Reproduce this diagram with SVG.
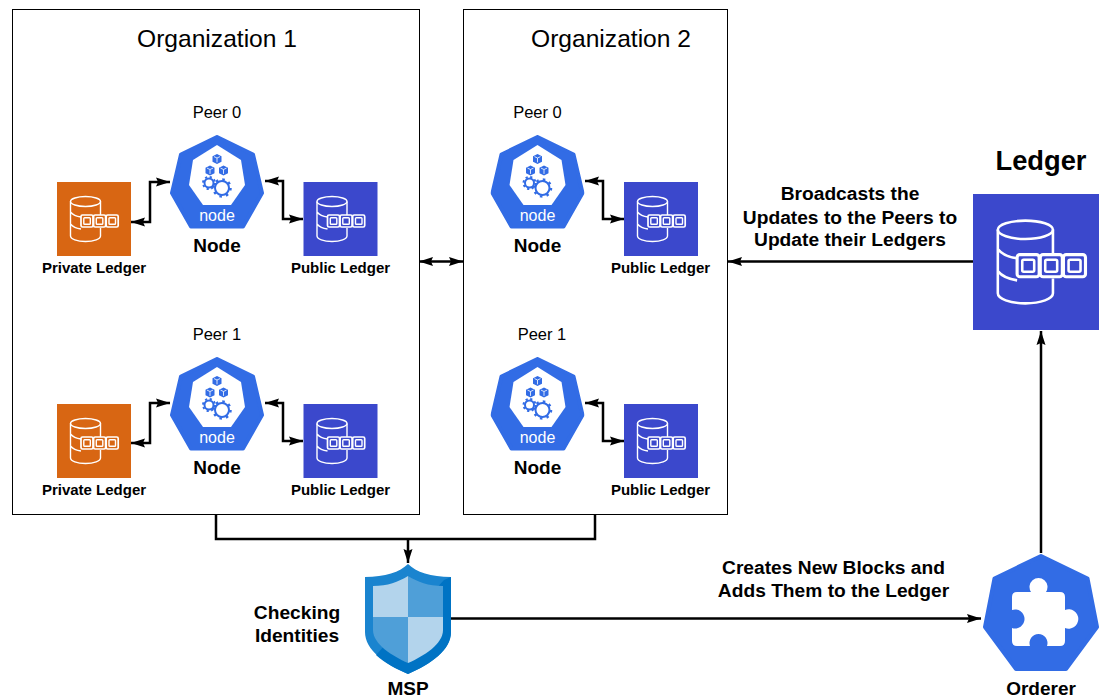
<svg xmlns="http://www.w3.org/2000/svg" width="1099" height="697" viewBox="0 0 1099 697">
<style>
text{font-family:"Liberation Sans",Arial,sans-serif;fill:#000;text-anchor:middle}
.org{fill:#fff;stroke:#000;stroke-width:1}
.title{font-size:24.6px}
.peer{font-size:16.500px}
.nl{font-size:19px;font-weight:700}
.ll{font-size:15px;font-weight:700}
.big{font-size:19.200px;font-weight:700}
.conn{fill:none;stroke:#000;stroke-width:2.500}
.ln{fill:none;stroke:#fff;stroke-width:1.400}
.ch{fill:none;stroke:#fff;stroke-width:1.700}
.nd{font-size:16px;fill:#fff}
</style>
<defs>
<marker id="ah" markerUnits="userSpaceOnUse" markerWidth="16" markerHeight="12" refX="14" refY="6" orient="auto-start-reverse"><path d="M0 1.500L14 6L0 10.500L2 6Z" fill="#000"/></marker>
<symbol id="ledger" viewBox="0 0 74 74" width="74" height="74" overflow="visible">
<ellipse class="ln" cx="28.500" cy="19.500" rx="15" ry="5"/>
<path class="ln" d="M13.500 19.500V54C13.500 57 20 59.500 28.500 59.500S43.500 57 43.500 54V46M43.500 19.500V33M13.500 30C16 33 20 34.500 24 35M13.500 42C16 45 20 46.500 24 47"/>
<rect class="ch" x="24" y="33" width="12" height="12" rx="1.500"/>
<rect class="ch" x="36.600" y="33" width="12" height="12" rx="1.500"/>
<rect class="ch" x="49.200" y="33" width="12" height="12" rx="1.500"/>
<rect class="ln" x="26.800" y="35.800" width="6.500" height="6.500" rx=".8"/>
<rect class="ln" x="39.300" y="35.800" width="6.500" height="6.500" rx=".8"/>
<rect class="ln" x="52" y="35.800" width="6.500" height="6.500" rx=".8"/>
</symbol>
<g id="cube"><path d="M0-5L4.500-2.800V2.800L0 5L-4.500 2.800V-2.800Z" fill="#326ce5"/><path d="M-3-2.400L0-1L3-2.400M0-1V3.400" fill="none" stroke="#fff" stroke-width=".8"/></g>
<symbol id="hep" viewBox="170 135 94 94" width="94" height="94">
<path d="M217 137L253 154.500L262 193L243 226.500H191L172 193L181 154.500Z" fill="#326ce5" stroke="#326ce5" stroke-width="4" stroke-linejoin="round"/>
<path d="M217 145L241 160L245 185L231 205H203L189 185L193 160Z" fill="#fff"/>
<use href="#cube" x="217" y="159"/><use href="#cube" x="210" y="170.500"/><use href="#cube" x="223.500" y="170.500"/>
<circle cx="209" cy="183" r="4.500" fill="#fff" stroke="#326ce5" stroke-width="2"/>
<circle cx="209" cy="183" r="6" fill="none" stroke="#326ce5" stroke-width="2" stroke-dasharray="2.200 2.510"/>
<circle cx="222" cy="188" r="7" fill="#fff" stroke="#326ce5" stroke-width="2"/>
<circle cx="222" cy="188" r="8.500" fill="none" stroke="#326ce5" stroke-width="2.500" stroke-dasharray="2.500 4.177"/>
</symbol>
</defs>
<rect width="1099" height="697" fill="#fff"/>
<g id="org1"><rect class="org" x="12.500" y="9.500" width="407" height="505"/><text class="title" x="217" y="47">Organization 1</text></g>
<g id="org2"><rect class="org" x="463.500" y="9.500" width="264" height="505"/><text class="title" x="611" y="47">Organization 2</text></g>

<g id="connectors">
<path class="conn" marker-start="url(#ah)" marker-end="url(#ah)" d="M131 222H150V182H170"/>
<path class="conn" marker-start="url(#ah)" marker-end="url(#ah)" d="M265 181H283V219H303"/>
<path class="conn" marker-start="url(#ah)" marker-end="url(#ah)" d="M131 443H150V403H170"/>
<path class="conn" marker-start="url(#ah)" marker-end="url(#ah)" d="M265 403H283V441H303"/>
<path class="conn" marker-start="url(#ah)" marker-end="url(#ah)" d="M585 181H603V219H624"/>
<path class="conn" marker-start="url(#ah)" marker-end="url(#ah)" d="M585 403H603V441H624"/>
<path class="conn" marker-start="url(#ah)" marker-end="url(#ah)" d="M419 261.500H463"/>
<path class="conn" marker-end="url(#ah)" d="M973 261.500H728"/>
<path class="conn" marker-end="url(#ah)" d="M1041 553V331"/>
<path class="conn" d="M216 515V539H595V515"/>
<path class="conn" marker-end="url(#ah)" d="M408 539V563"/>
<path class="conn" marker-end="url(#ah)" d="M451 618.500H981"/>
</g>

<g id="peer0-org1"><text class="peer" x="217" y="118">Peer 0</text><use href="#hep" x="170" y="135"/><text class="nd" x="217" y="221">node</text><text class="nl" x="217" y="252">Node</text></g>
<g id="peer1-org1"><text class="peer" x="217" y="339.500">Peer 1</text><use href="#hep" x="170" y="357"/><text class="nd" x="217" y="443">node</text><text class="nl" x="217" y="474">Node</text></g>
<g id="peer0-org2"><text class="peer" x="537.500" y="118">Peer 0</text><use href="#hep" x="490.500" y="135"/><text class="nd" x="537.500" y="221">node</text><text class="nl" x="537.500" y="252">Node</text></g>
<g id="peer1-org2"><text class="peer" x="542" y="339.500">Peer 1</text><use href="#hep" x="490.500" y="357"/><text class="nd" x="537.500" y="443">node</text><text class="nl" x="537.500" y="474">Node</text></g>

<g id="private0"><rect x="57" y="182" width="74" height="74" fill="#d86613"/><use href="#ledger" x="57" y="182"/><text class="ll" x="94" y="273">Private Ledger</text></g>
<g id="private1"><rect x="57" y="404" width="74" height="74" fill="#d86613"/><use href="#ledger" x="57" y="404"/><text class="ll" x="94" y="495">Private Ledger</text></g>
<g id="public0-org1"><rect x="303.500" y="182" width="74" height="74" fill="#3b48cc"/><use href="#ledger" x="303.500" y="182"/><text class="ll" x="340.500" y="273">Public Ledger</text></g>
<g id="public1-org1"><rect x="303.500" y="404" width="74" height="74" fill="#3b48cc"/><use href="#ledger" x="303.500" y="404"/><text class="ll" x="340.500" y="495">Public Ledger</text></g>
<g id="public0-org2"><rect x="624" y="182" width="74" height="74" fill="#3b48cc"/><use href="#ledger" x="624" y="182"/><text class="ll" x="660.500" y="273">Public Ledger</text></g>
<g id="public1-org2"><rect x="624" y="404" width="74" height="74" fill="#3b48cc"/><use href="#ledger" x="624" y="404"/><text class="ll" x="660.500" y="495">Public Ledger</text></g>

<g id="ledger-main"><text x="1041" y="170" font-size="27.300" font-weight="700">Ledger</text><rect x="973" y="194" width="136" height="136" fill="#3b48cc"/><use href="#ledger" transform="translate(973 194) scale(1.838)"/></g>

<g id="msp">
<path d="M408 564C400 572 385 577 365 577V632C365 650 385 664 408 674C431 664 451 650 451 632V577C431 577 416 572 408 564Z" fill="#1a84cf"/>
<path d="M451 577V632C451 650 431 664 408 674C396 669 385 663 376 655L444 580Z" fill="#0073c4"/>
<path d="M408 576C398 582 388 586 373 586V617H408Z" fill="#b3d4ec"/>
<path d="M408 576C418 582 428 586 443 586V617H408Z" fill="#4f9fd8"/>
<path d="M373 617H408V663C392 656 373 644 373 630Z" fill="#4f9fd8"/>
<path d="M443 617H408V663C424 656 443 644 443 630Z" fill="#b3d4ec"/>
<text x="408" y="695" font-size="19" font-weight="700">MSP</text>
</g>

<g id="orderer">
<path d="M1041 556L1087.500 578.500L1097 627L1066 669H1016L985 627L994.500 578.500Z" fill="#326ce5" stroke="#326ce5" stroke-width="4" stroke-linejoin="round"/>
<path d="M1017 592H1031A9 9 0 1 1 1046 592H1060Q1065 592 1065 597V610A9.700 9.700 0 1 1 1065 628V641Q1065 646 1060 646H1047A9 9 0 1 0 1030 646H1017Q1012 646 1012 641V628A9.500 9.500 0 1 0 1012 610V597Q1012 592 1017 592Z" fill="#fff"/>
<text x="1041" y="695" font-size="19" font-weight="700">Orderer</text>
</g>

<g id="labels">
<text class="big" x="297" y="619">Checking</text>
<text class="big" x="297" y="642">Identities</text>
<text class="big" x="850" y="200">Broadcasts the</text>
<text class="big" x="850" y="224">Updates to the Peers to</text>
<text class="big" x="850" y="246">Update their Ledgers</text>
<text class="big" x="833.500" y="574">Creates New Blocks and</text>
<text class="big" x="833.500" y="597">Adds Them to the Ledger</text>
</g>
</svg>
